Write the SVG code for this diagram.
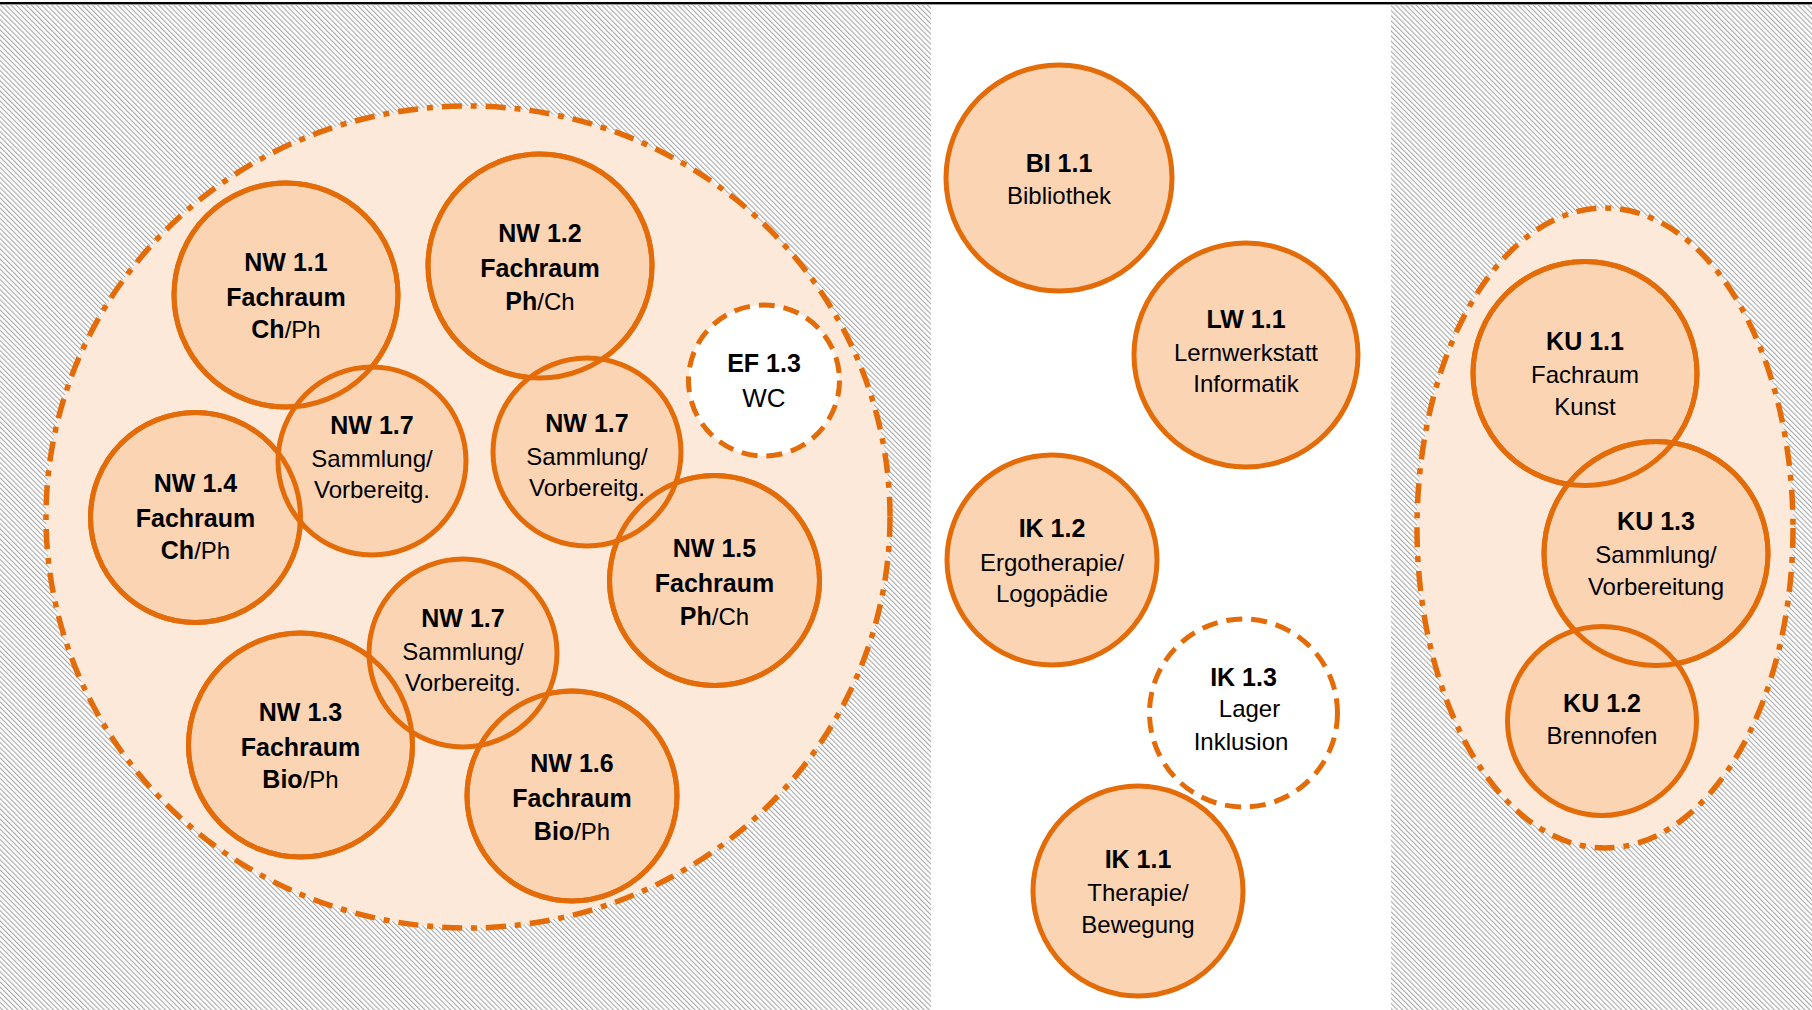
<svg xmlns="http://www.w3.org/2000/svg" width="1812" height="1010" viewBox="0 0 1812 1010">
<defs>
<pattern id="hatch" width="3.6" height="3.6" patternUnits="userSpaceOnUse" patternTransform="rotate(-45)">
<rect width="3.6" height="3.6" fill="#ffffff"/>
<rect width="1.1" height="3.6" fill="#a8a8a8"/>
</pattern>
<style>
.zone{fill:#FDE9D9;stroke:#E36C09;stroke-width:5.5;stroke-dasharray:20 9 6 9}
.room{fill:#FBD4B4;stroke:#E36C09;stroke-width:5}
.ring{fill:none;stroke:#E36C09;stroke-width:5}
.open{fill:#ffffff;stroke:#E36C09;stroke-width:5;stroke-dasharray:16 9}
text{font-family:"Liberation Sans",Arial,sans-serif;text-anchor:middle;fill:#000}
.b{font-weight:bold;font-size:25px}
.r{font-size:24px}
.n{font-weight:normal}
</style>
</defs>
<g id="background">
<rect x="0" y="0" width="1812" height="1010" fill="#ffffff"/>
<rect x="0" y="5" width="931" height="1005" fill="url(#hatch)"/>
<rect x="1391" y="5" width="421" height="1005" fill="url(#hatch)"/>
<rect x="0" y="2" width="1812" height="2" fill="#000000"/>
<rect x="0" y="4" width="1812" height="1" fill="#9a9a9a"/>
</g>
<g id="zones">
<ellipse id="zone-nw" class="zone" cx="468" cy="517" rx="422" ry="411"/>
<ellipse id="zone-ku" class="zone" cx="1605" cy="528" rx="188" ry="320"/>
</g>
<g id="connectors"/>
<g id="nodes">
<g id="nw11"><circle class="room" cx="286" cy="295" r="112"/>
<text class="b" x="286" y="271">NW 1.1</text><text class="b" x="286" y="306">Fachraum</text><text class="b" x="286" y="338">Ch<tspan class="r n">/Ph</tspan></text></g>
<g id="nw12"><circle class="room" cx="540" cy="266" r="112"/>
<text class="b" x="540" y="242">NW 1.2</text><text class="b" x="540" y="277">Fachraum</text><text class="b" x="540" y="310">Ph<tspan class="r n">/Ch</tspan></text></g>
<g id="nw14"><circle class="room" cx="195.5" cy="517.5" r="105"/>
<text class="b" x="195.5" y="492">NW 1.4</text><text class="b" x="195.5" y="527">Fachraum</text><text class="b" x="195.5" y="559">Ch<tspan class="r n">/Ph</tspan></text></g>
<g id="nw15"><circle class="room" cx="714.5" cy="580.5" r="105"/>
<text class="b" x="714.5" y="557">NW 1.5</text><text class="b" x="714.5" y="592">Fachraum</text><text class="b" x="714.5" y="625">Ph<tspan class="r n">/Ch</tspan></text></g>
<g id="nw13"><circle class="room" cx="300.5" cy="745" r="112"/>
<text class="b" x="300.5" y="721">NW 1.3</text><text class="b" x="300.5" y="756">Fachraum</text><text class="b" x="300.5" y="788">Bio<tspan class="r n">/Ph</tspan></text></g>
<g id="nw16"><circle class="room" cx="572" cy="796" r="105"/>
<text class="b" x="572" y="772">NW 1.6</text><text class="b" x="572" y="807">Fachraum</text><text class="b" x="572" y="840">Bio<tspan class="r n">/Ph</tspan></text></g>
<g id="nw17a"><circle class="room" cx="372" cy="461" r="94"/>
<text class="b" x="372" y="434">NW 1.7</text><text class="r" x="372" y="467">Sammlung/</text><text class="r" x="372" y="498">Vorbereitg.</text></g>
<g id="nw17b"><circle class="room" cx="587" cy="452" r="94"/>
<text class="b" x="587" y="432">NW 1.7</text><text class="r" x="587" y="465">Sammlung/</text><text class="r" x="587" y="496">Vorbereitg.</text></g>
<g id="nw17c"><circle class="room" cx="463" cy="653" r="94"/>
<text class="b" x="463" y="627">NW 1.7</text><text class="r" x="463" y="660">Sammlung/</text><text class="r" x="463" y="691">Vorbereitg.</text></g>
<g id="ef13"><circle class="open" cx="764" cy="380.5" r="75.5"/>
<text class="b" x="764" y="372">EF 1.3</text><text class="r" x="764" y="407" style="font-size:26px">WC</text></g>
<g id="bi11"><circle class="room" cx="1059" cy="178" r="113"/>
<text class="b" x="1059" y="172">BI 1.1</text><text class="r" x="1059" y="204">Bibliothek</text></g>
<g id="lw11"><circle class="room" cx="1246" cy="355" r="112"/>
<text class="b" x="1246" y="328">LW 1.1</text><text class="r" x="1246" y="361">Lernwerkstatt</text><text class="r" x="1246" y="392">Informatik</text></g>
<g id="ik12"><circle class="room" cx="1052" cy="560" r="105"/>
<text class="b" x="1052" y="537">IK 1.2</text><text class="r" x="1052" y="571">Ergotherapie/</text><text class="r" x="1052" y="602">Logopädie</text></g>
<g id="ik13"><circle class="open" cx="1243.5" cy="713" r="94"/>
<text class="b" x="1243.5" y="686">IK 1.3</text><text class="r" x="1249.5" y="717">Lager</text><text class="r" x="1241" y="750">Inklusion</text></g>
<g id="ik11"><circle class="room" cx="1138" cy="891" r="105"/>
<text class="b" x="1138" y="868">IK 1.1</text><text class="r" x="1138" y="901">Therapie/</text><text class="r" x="1138" y="933">Bewegung</text></g>
<g id="ku11"><circle class="room" cx="1585" cy="373.5" r="112"/>
<text class="b" x="1585" y="350">KU 1.1</text><text class="r" x="1585" y="383">Fachraum</text><text class="r" x="1585" y="415">Kunst</text></g>
<g id="ku13"><circle class="room" cx="1656" cy="553.5" r="112"/>
<text class="b" x="1656" y="530">KU 1.3</text><text class="r" x="1656" y="563">Sammlung/</text><text class="r" x="1656" y="595">Vorbereitung</text></g>
<g id="ku12"><circle class="room" cx="1602" cy="721" r="94.5"/>
<text class="b" x="1602" y="712">KU 1.2</text><text class="r" x="1602" y="744">Brennofen</text></g>
</g>
<g id="outlines">
<circle class="ring" cx="286" cy="295" r="112"/>
<circle class="ring" cx="540" cy="266" r="112"/>
<circle class="ring" cx="195.5" cy="517.5" r="105"/>
<circle class="ring" cx="714.5" cy="580.5" r="105"/>
<circle class="ring" cx="300.5" cy="745" r="112"/>
<circle class="ring" cx="572" cy="796" r="105"/>
<circle class="ring" cx="1585" cy="373.5" r="112"/>
<circle class="ring" cx="1656" cy="553.5" r="112"/>
</g>
</svg>
